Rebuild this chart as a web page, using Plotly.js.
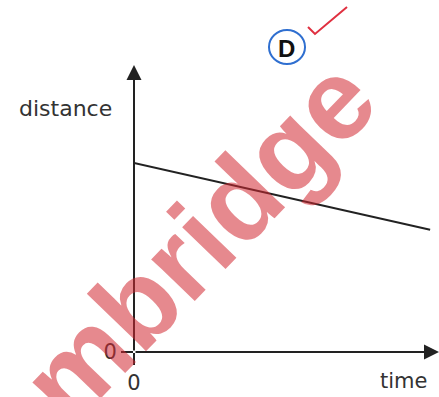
<!DOCTYPE html>
<html>
<head>
<meta charset="utf-8">
<script src="https://cdn.plot.ly/plotly-3.0.1.min.js"></script>
<style>html,body{margin:0;padding:0;background:#fff;}#chart{width:439px;height:397px;}</style>
</head>
<body>
<div id="chart"></div>
<script>
// Data (arbitrary units)
var time = [0, 10];
var distance = [6.65, 4.3];
var xTicks = [0];
var xTickLabels = ['0'];
var yTicks = [0];
var yTickLabels = ['0'];
var xLabel = 'time';
var yLabel = 'distance';
var answerLetter = 'D';
var watermark = 'mbridge';

var xMax = 10.3, yMax = 10.1;
var fontFam = 'DejaVu Sans, sans-serif';

var trace = {
  x: time, y: distance, type: 'scatter', mode: 'lines',
  line: {color: '#222', width: 2}, hoverinfo: 'skip', showlegend: false
};

var axisCommon = {
  showgrid: false, zeroline: false, showline: false,
  ticks: 'outside', ticklen: 12, tickwidth: 2, tickcolor: '#222',
  tickfont: {family: fontFam, size: 21, color: '#333'},
  fixedrange: true
};

var layout = {
  width: 439, height: 397,
  margin: {l: 134, r: 0, t: 65, b: 45, pad: 0},
  paper_bgcolor: '#fff', plot_bgcolor: '#fff',
  xaxis: Object.assign({}, axisCommon, {range: [0, xMax], tickvals: xTicks, ticktext: xTickLabels}),
  yaxis: Object.assign({}, axisCommon, {range: [0, yMax], tickvals: yTicks, ticktext: yTickLabels}),
  shapes: [
    {type: 'circle', xref: 'paper', yref: 'paper', x0: 0.4426, x1: 0.5607, y0: 1.0035, y1: 1.122,
     line: {color: '#2f6fd0', width: 2}},
    {type: 'path', xref: 'paper', yref: 'paper',
     path: 'M 0.5705 1.1324 L 0.5934 1.108 L 0.6984 1.2021',
     line: {color: '#e03040', width: 2}}
  ],
  annotations: [
    // axis arrows
    {xref: 'x', yref: 'y', axref: 'x', ayref: 'y', x: xMax, y: 0, ax: 0, ay: 0, text: '',
     showarrow: true, arrowhead: 2, arrowsize: 1.5, arrowwidth: 2, arrowcolor: '#222'},
    {xref: 'x', yref: 'y', axref: 'x', ayref: 'y', x: 0, y: yMax, ax: 0, ay: 0, text: '',
     showarrow: true, arrowhead: 2, arrowsize: 1.5, arrowwidth: 2, arrowcolor: '#222'},
    // axis labels
    {xref: 'paper', yref: 'paper', x: -0.223, y: 0.85, text: yLabel, showarrow: false,
     xanchor: 'center', yanchor: 'middle', font: {family: fontFam, size: 22, color: '#333'}},
    {xref: 'paper', yref: 'paper', x: 0.885, y: -0.101, text: xLabel, showarrow: false,
     xanchor: 'center', yanchor: 'middle', font: {family: fontFam, size: 21, color: '#333'}},
    // answer letter
    {xref: 'paper', yref: 'paper', x: 0.5016, y: 1.059, text: '<b>' + answerLetter + '</b>', showarrow: false,
     xanchor: 'center', yanchor: 'middle', font: {family: 'Liberation Sans, Arial, sans-serif', size: 24, color: '#111'}},
    // watermark
    {xref: 'paper', yref: 'paper', x: 0.21, y: 0.39, text: '<b>' + watermark + '</b>', showarrow: false,
     xanchor: 'center', yanchor: 'middle', textangle: -46,
     font: {family: 'Liberation Sans, Arial, sans-serif', size: 114, color: 'rgba(210,40,50,0.55)'}}
  ]
};

Plotly.newPlot('chart', [trace], layout, {staticPlot: true, displayModeBar: false});
</script>
</body>
</html>
